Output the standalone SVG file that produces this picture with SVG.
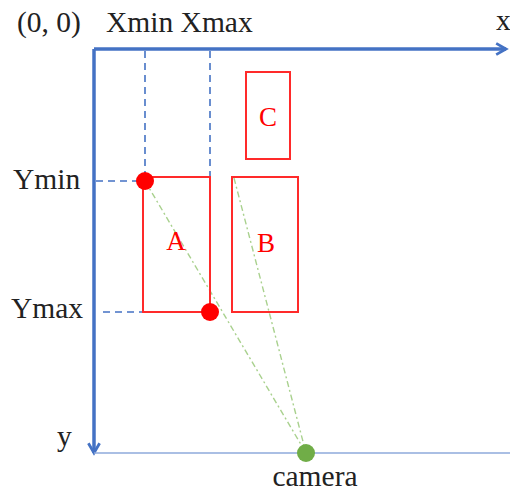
<svg xmlns="http://www.w3.org/2000/svg" width="510" height="492" viewBox="0 0 510 492">
<style>
text{font-family:"Liberation Serif","Times New Roman",serif;font-size:29.5px;fill:#222}
.lbl{fill:#ff0000;font-size:27px;text-anchor:middle}
.box{fill:none;stroke:#ff2a2a;stroke-width:2}
.axis{stroke:#4472c4;stroke-width:3.5;fill:none}
.dash{stroke:#4472c4;stroke-width:1.6;stroke-dasharray:7 5;fill:none}
.ray{stroke:#a9d18e;stroke-width:1.4;stroke-dasharray:6 3 2 3;fill:none}
</style>
<defs>
<marker id="arr" viewBox="0 0 10 10" refX="8" refY="5" markerWidth="4" markerHeight="4" orient="auto" markerUnits="strokeWidth">
<path d="M1,1 L8,5 L1,9" fill="none" stroke="#4472c4" stroke-width="2"/>
</marker>
</defs>
<g id="connectors">
<line x1="94" y1="49" x2="506" y2="49" class="axis" marker-end="url(#arr)"/>
<line x1="94" y1="49" x2="94" y2="453" class="axis" marker-end="url(#arr)"/>
<line x1="94" y1="453" x2="510" y2="453" stroke="#8eaadb" stroke-width="1.5"/>
<line x1="145" y1="51" x2="145" y2="181" class="dash"/>
<line x1="210" y1="51" x2="210" y2="312" class="dash"/>
<line x1="96" y1="181" x2="145" y2="181" class="dash"/>
<line x1="103" y1="312" x2="210" y2="312" class="dash"/>
<line x1="145" y1="181" x2="306" y2="453" class="ray"/>
<line x1="234" y1="178" x2="306" y2="453" class="ray"/>
</g>
<g id="A"><rect x="143" y="177" width="67" height="135" class="box"/><text x="176" y="250" class="lbl">A</text></g>
<g id="B"><rect x="232" y="177" width="66" height="135" class="box"/><text x="266" y="252" class="lbl">B</text></g>
<g id="C"><rect x="246" y="72" width="44" height="87" class="box"/><text x="268" y="126" class="lbl">C</text></g>
<g id="ymin-pt"><circle cx="145" cy="181" r="9" fill="#ff0000"/></g>
<g id="ymax-pt"><circle cx="210" cy="312" r="9" fill="#ff0000"/></g>
<g id="camera"><circle cx="306" cy="453" r="9" fill="#70ad47"/><text x="315" y="486" text-anchor="middle">camera</text></g>
<g id="labels">
<text x="17" y="32">(0, 0)</text>
<text x="106" y="32">Xmin Xmax</text>
<text x="496" y="30">x</text>
<text x="13" y="189">Ymin</text>
<text x="11" y="318">Ymax</text>
<text x="57" y="446">y</text>
</g>
</svg>
